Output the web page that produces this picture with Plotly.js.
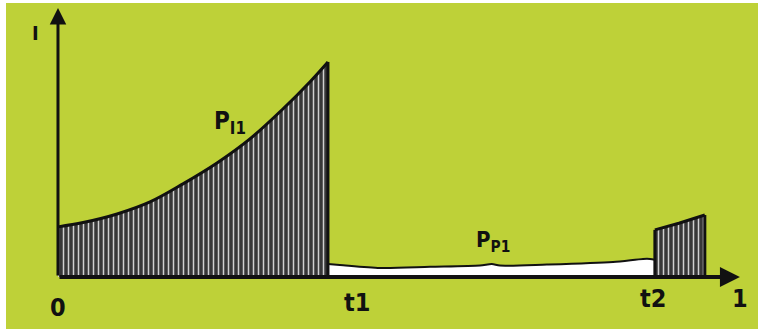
<!DOCTYPE html>
<html>
<head>
<meta charset="utf-8">
<script src="https://cdn.plot.ly/plotly-3.0.1.min.js"></script>
<style>html,body{margin:0;padding:0;background:#fff;}#chart{width:762px;height:330px;}</style>
</head>
<body>
<div id="chart"></div>
<script>
// Segment 1: P_I1 (0 .. t1), relative current
var xI1 = [0, 0.093, 0.219, 0.341, 0.463, 0.589, 0.711, 0.833, 0.933, 1.0];
var yI1 = [0.233, 0.253, 0.293, 0.349, 0.433, 0.530, 0.642, 0.781, 0.907, 1.0];
// Segment 2: P_P1 (t1 .. t2)
var xP1 = [1.0, 1.044, 1.193, 1.378, 1.563, 1.607, 1.637, 1.811, 2.056, 2.167, 2.193, 2.211];
var yP1 = [0.06, 0.056, 0.042, 0.047, 0.053, 0.06, 0.053, 0.058, 0.07, 0.084, 0.084, 0.08];
// Segment 3: after t2
var xI2 = [2.211, 2.3, 2.396];
var yI2 = [0.219, 0.25, 0.288];
// Marks on the time axis
var tickX = [0, 1.107, 2.204, 2.526];
var tickText = ["0", "t1", "t2", "1"];
var axisTop = 1.251;
var axisEnd = 2.526;

var green = "#bed138";
var ink = "#111111";
var hatch = {shape: "|", bgcolor: "#383838", fgcolor: "#d0d0d0", size: 5, solidity: 0.3};

function last(a) { return a[a.length - 1]; }
function edge(x, y) {
  return {x: [x, x], y: [0, y], mode: "lines", line: {color: ink, width: 3}, hoverinfo: "skip"};
}

var traces = [
  {x: xP1, y: yP1, mode: "lines", fill: "tozeroy", fillcolor: "#ffffff",
   line: {color: ink, width: 2, shape: "spline", smoothing: 0.8}, hoverinfo: "skip"},
  {x: xI1, y: yI1, mode: "lines", fill: "tozeroy", fillcolor: "#383838", fillpattern: hatch,
   line: {color: ink, width: 3, shape: "spline", smoothing: 1}, hoverinfo: "skip"},
  {x: xI2, y: yI2, mode: "lines", fill: "tozeroy", fillcolor: "#383838", fillpattern: hatch,
   line: {color: ink, width: 3}, hoverinfo: "skip"},
  edge(last(xI1), last(yI1)),
  edge(xI2[0], yI2[0]),
  edge(last(xI2), last(yI2))
];

var fam = "DejaVu Sans Condensed, Liberation Sans Narrow, Arial";
var ann = [];
// axes with arrows
ann.push({x: 0, y: axisTop, ax: 0, ay: 0, xref: "x", yref: "y", axref: "x", ayref: "y",
  showarrow: true, arrowhead: 2, arrowsize: 1.1, arrowwidth: 3, arrowcolor: ink, text: ""});
ann.push({x: axisEnd, y: 0, ax: 0, ay: 0, xref: "x", yref: "y", axref: "x", ayref: "y",
  showarrow: true, arrowhead: 2, arrowsize: 1.0, arrowwidth: 4, arrowcolor: ink, text: ""});
var tickY = [-0.14, -0.12, -0.10, -0.10];
for (var i = 0; i < tickX.length; i++) {
  ann.push({x: tickX[i], y: tickY[i], xref: "x", yref: "y", showarrow: false,
    text: "<b>" + tickText[i] + "</b>", font: {family: fam, color: ink, size: 25}});
}
ann.push({x: -0.085, y: 1.135, xref: "x", yref: "y", showarrow: false, text: "<b>I</b>",
  font: {family: fam, color: ink, size: 20}});
ann.push({x: 0.637, y: 0.72, xref: "x", yref: "y", showarrow: false,
  text: "<b>P<sub>I1</sub></b>", font: {family: fam, color: ink, size: 24}});
ann.push({x: 1.611, y: 0.165, xref: "x", yref: "y", showarrow: false,
  text: "<b>P<sub>P1</sub></b>", font: {family: fam, color: ink, size: 22}});

var layout = {
  width: 762, height: 330,
  margin: {l: 6, r: 4, t: 3, b: 1, pad: 0},
  paper_bgcolor: "#ffffff",
  plot_bgcolor: green,
  showlegend: false,
  xaxis: {range: [-0.1926, 2.593], visible: false, fixedrange: true},
  yaxis: {range: [-0.242, 1.274], visible: false, fixedrange: true},
  annotations: ann
};
Plotly.newPlot("chart", traces, layout, {displayModeBar: false, staticPlot: true});
</script>
</body>
</html>
